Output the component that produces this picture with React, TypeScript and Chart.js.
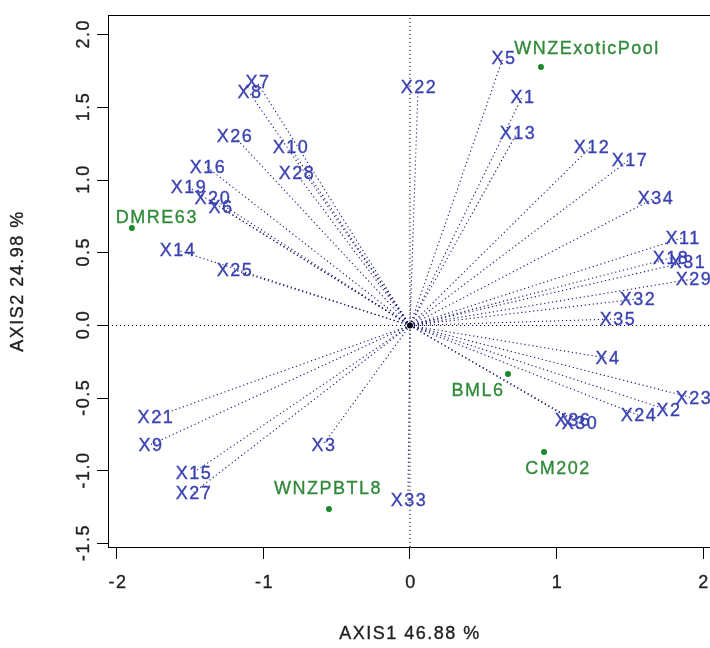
import React, { useEffect, useRef } from "react";
import { Chart, registerables } from "chart.js";

Chart.register(...registerables);

// ---- data ----
const varNames = [
  "X1", "X2", "X3", "X4", "X5", "X6", "X7", "X8", "X9", "X10",
  "X11", "X12", "X13", "X14", "X15", "X16", "X17", "X18", "X19", "X20",
  "X21", "X22", "X23", "X24", "X25", "X26", "X27", "X28", "X29", "X30",
  "X31", "X32", "X33", "X34", "X35", "X36",
];
const varX = [
  0.765, 1.761, -0.594, 1.345, 0.635, -1.297, -1.044, -1.099, -1.775, -0.819,
  1.857, 1.235, 0.730, -1.590, -1.481, -1.386, 1.495, 1.775, -1.515, -1.352,
  -1.741, 0.055, 1.932, 1.556, -1.201, -1.201, -1.481, -0.778, 1.932, 1.154,
  1.891, 1.549, -0.014, 1.672, 1.413, 1.106,
];
const varY = [
  1.571, -0.581, -0.822, -0.224, 1.840, 0.815, 1.675, 1.606, -0.822, 1.228,
  0.602, 1.228, 1.324, 0.519, -1.014, 1.090, 1.139, 0.464, 0.953, 0.877,
  -0.629, 1.640, -0.499, -0.616, 0.382, 1.303, -1.152, 1.049, 0.320, -0.671,
  0.437, 0.182, -1.200, 0.877, 0.045, -0.650,
];

const indNames = ["WNZExoticPool", "DMRE63", "BML6", "CM202", "WNZPBTL8"];
const indX = [0.894, -1.898, 0.669, 0.915, -0.553];
const indY = [1.778, 0.671, -0.334, -0.870, -1.262];

const xTicks = [-2, -1, 0, 1, 2];
const yTicks = [-1.5, -1.0, -0.5, 0, 0.5, 1.0, 1.5, 2.0];
const xTitle = "AXIS1 46.88 %";
const yTitle = "AXIS2 24.98 %";

// ---- layout / style (not data) ----
const X_MIN = -2.061;
const X_MAX = 2.0614;
const Y_MIN = -1.5234;
const Y_MAX = 2.1355;
const indLabelNudge = [
  [46, -19],
  [25, -11],
  [-30, 16],
  [14, 16],
  [-1, -21],
];
const FONT = '18px "Liberation Sans", Arial, sans-serif';
const BLUE_TEXT = "#3a42b2";
const BLUE_LINE = "#16166e";
const GREEN_TEXT = "#318a3a";
const GREEN_DOT = "#178a2a";
const AXIS_TEXT = "#222222";

function drawText(ctx: any, s: string, x: number, y: number, color: string) {
  ctx.fillStyle = color;
  ctx.strokeStyle = color;
  ctx.lineWidth = 0.35;
  ctx.fillText(s, x, y);
  ctx.strokeText(s, x, y);
}

const biplotText = {
  id: "biplotText",
  afterDatasetsDraw(chart: any) {
    const { ctx, chartArea, scales } = chart;
    const xs = scales.x;
    const ys = scales.y;
    ctx.save();
    ctx.font = FONT;
    try {
      (ctx as any).letterSpacing = "1.5px";
    } catch (e) {}
    ctx.textAlign = "center";
    ctx.textBaseline = "middle";

    varNames.forEach((n, i) => {
      drawText(ctx, n, xs.getPixelForValue(varX[i]) + 1, ys.getPixelForValue(varY[i]) + 1, BLUE_TEXT);
    });

    indNames.forEach((n, i) => {
      drawText(
        ctx,
        n,
        xs.getPixelForValue(indX[i]) + indLabelNudge[i][0],
        ys.getPixelForValue(indY[i]) + indLabelNudge[i][1] + 1,
        GREEN_TEXT
      );
    });

    // box (top & right edges)
    ctx.strokeStyle = "#000";
    ctx.lineWidth = 1;
    ctx.beginPath();
    ctx.moveTo(Math.round(chartArea.left) + 0.5, Math.round(chartArea.top) + 0.5);
    ctx.lineTo(Math.round(chartArea.right) + 0.5, Math.round(chartArea.top) + 0.5);
    ctx.lineTo(Math.round(chartArea.right) + 0.5, Math.round(chartArea.bottom) + 0.5);
    ctx.stroke();

    // tick labels
    xTicks.forEach((v) => {
      drawText(ctx, String(v), xs.getPixelForValue(v) + 1, chartArea.bottom + 36, AXIS_TEXT);
    });
    yTicks.forEach((v) => {
      ctx.save();
      ctx.translate(chartArea.left - 24, ys.getPixelForValue(v));
      ctx.rotate(-Math.PI / 2);
      drawText(ctx, v.toFixed(1), 1, 0, AXIS_TEXT);
      ctx.restore();
    });

    // axis titles
    drawText(ctx, xTitle, (chartArea.left + chartArea.right) / 2, chartArea.bottom + 87, AXIS_TEXT);
    ctx.save();
    ctx.translate(chartArea.left - 90, (chartArea.top + chartArea.bottom) / 2);
    ctx.rotate(-Math.PI / 2);
    drawText(ctx, yTitle, 0, 0, AXIS_TEXT);
    ctx.restore();

    ctx.restore();
  },
};

export default function App() {
  const canvasRef = useRef<HTMLCanvasElement | null>(null);

  useEffect(() => {
    const canvas = canvasRef.current;
    if (!canvas) return;

    const lineSets = varNames.map((n, i) => ({
      label: n,
      type: "scatter" as const,
      data: [
        { x: 0, y: 0 },
        { x: varX[i], y: varY[i] },
      ],
      showLine: true,
      borderColor: BLUE_LINE,
      borderWidth: 1.1,
      borderDash: [1.2, 2.8],
      pointRadius: 0,
      fill: false,
      order: 3,
    }));

    const datasets: any[] = [
      {
        label: "h0",
        data: [
          { x: X_MIN, y: 0 },
          { x: X_MAX, y: 0 },
        ],
        showLine: true,
        borderColor: "#000",
        borderWidth: 1,
        borderDash: [1.2, 2.8],
        pointRadius: 0,
        order: 4,
      },
      {
        label: "v0",
        data: [
          { x: 0, y: Y_MIN },
          { x: 0, y: Y_MAX },
        ],
        showLine: true,
        borderColor: "#000",
        borderWidth: 1,
        borderDash: [1.2, 2.8],
        pointRadius: 0,
        order: 4,
      },
      ...lineSets,
      {
        label: "individuals",
        data: indX.map((x, i) => ({ x, y: indY[i] })),
        pointRadius: 3,
        pointBackgroundColor: GREEN_DOT,
        pointBorderColor: GREEN_DOT,
        pointBorderWidth: 0,
        showLine: false,
        order: 1,
      },
      {
        label: "origin",
        data: [{ x: 0, y: 0 }],
        pointRadius: 3,
        pointBackgroundColor: "#000",
        pointBorderColor: "#000",
        pointBorderWidth: 0,
        showLine: false,
        order: 0,
      },
    ];

    const chart = new Chart(canvas, {
      type: "scatter",
      data: { datasets },
      options: {
        responsive: false,
        animation: false,
        events: [],
        layout: { padding: { top: 15, right: 8, left: 0, bottom: 0 } },
        plugins: {
          legend: { display: false },
          tooltip: { enabled: false },
          title: { display: false },
        },
        scales: {
          x: {
            type: "linear",
            min: X_MIN,
            max: X_MAX,
            grid: {
              drawOnChartArea: false,
              drawTicks: true,
              tickLength: 12,
              color: "#000",
              lineWidth: 1,
            },
            border: { display: true, color: "#000", width: 1 },
            ticks: { display: false },
            afterBuildTicks: (s: any) => {
              s.ticks = xTicks.map((v) => ({ value: v }));
            },
            afterFit: (s: any) => {
              s.height = 101;
            },
          },
          y: {
            type: "linear",
            min: Y_MIN,
            max: Y_MAX,
            grid: {
              drawOnChartArea: false,
              drawTicks: true,
              tickLength: 11,
              color: "#000",
              lineWidth: 1,
            },
            border: { display: true, color: "#000", width: 1 },
            ticks: { display: false },
            afterBuildTicks: (s: any) => {
              s.ticks = yTicks.map((v) => ({ value: v }));
            },
            afterFit: (s: any) => {
              s.width = 108;
            },
          },
        },
      },
      plugins: [biplotText],
    });

    return () => {
      chart.destroy();
    };
  }, []);

  return (
    <div
      style={{
        position: "fixed",
        left: 0,
        top: 0,
        width: 710,
        height: 648,
        overflow: "hidden",
        background: "#fff",
      }}
    >
      <canvas
        ref={canvasRef}
        width={720}
        height={648}
        style={{ width: 720, height: 648, display: "block" }}
      />
    </div>
  );
}
